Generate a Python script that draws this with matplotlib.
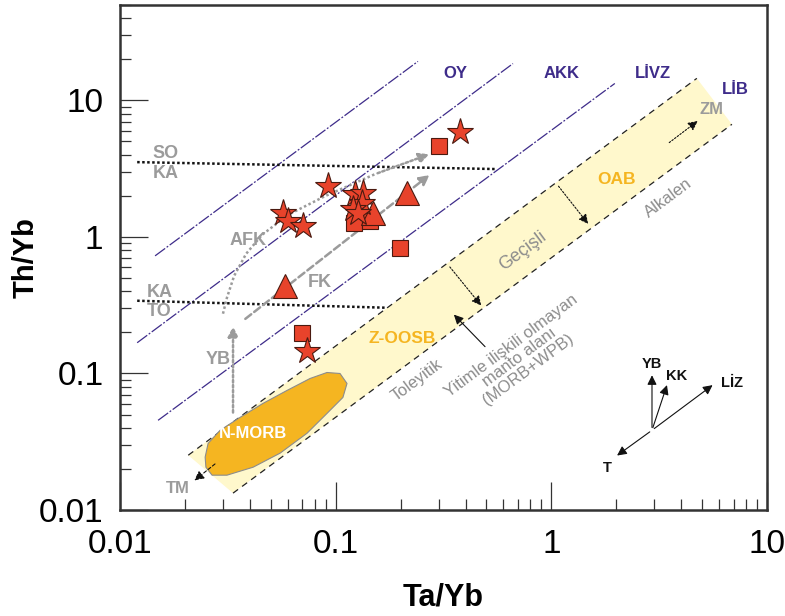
import matplotlib.pyplot as plt
from matplotlib.ticker import FixedLocator, LogLocator, NullFormatter

plt.rcParams['font.family'] = ['Liberation Sans', 'DejaVu Sans']

# sample data (Ta/Yb, Th/Yb)
star_x = [0.377, 0.092, 0.057, 0.060, 0.0705, 0.123, 0.134, 0.132, 0.120, 0.127, 0.0736]
star_y = [5.9, 2.36, 1.50, 1.31, 1.20, 2.06, 2.10, 1.77, 1.60, 1.50, 0.147]
square_x = [0.301, 0.1216, 0.144, 0.199, 0.0698]
square_y = [4.62, 1.265, 1.31, 0.831, 0.199]
tri_x = [0.214, 0.149, 0.058]
tri_y = [2.10, 1.50, 0.44]

# diagram reference lines
purple_lines = [
    ([0.01453, 0.2407], [0.727, 19.3]),
    ([0.012, 0.664], [0.168, 18.6]),
    ([0.015, 1.97], [0.0454, 13.3]),
]
band_upper_x = [0.0207, 4.73]
band_upper_y = [0.0252, 14.5]
band_lower_x = [0.0334, 6.88]
band_lower_y = [0.0133, 6.68]
so_ka_x = [0.012, 0.56]
so_ka_y = [3.53, 3.14]
ka_to_x = [0.012, 0.173]
ka_to_y = [0.341, 0.303]

morb_x = [0.0248, 0.0256, 0.0291, 0.036, 0.046, 0.0594, 0.076, 0.0911, 0.1047,
          0.1128, 0.108, 0.0911, 0.0736, 0.0552, 0.0414, 0.0313, 0.0267, 0.025]
morb_y = [0.0244, 0.0308, 0.0384, 0.0477, 0.0604, 0.0751, 0.0919, 0.1017, 0.1,
          0.0845, 0.0668, 0.051, 0.0365, 0.0261, 0.0206, 0.018, 0.018, 0.0206]

afk_x = [0.030, 0.0313, 0.0338, 0.0384, 0.0455, 0.0601, 0.0892, 0.152, 0.279]
afk_y = [0.274, 0.359, 0.519, 0.752, 1.035, 1.45, 1.99, 2.88, 4.10]

purple = '#3E2C8A'
gray = '#9B9B9B'
orange = '#F5B521'
red = '#E8432B'

fig = plt.figure(figsize=(7.85, 6.16), dpi=100)
ax = fig.add_axes([0.153, 0.172, 0.824, 0.82])
ax.set_xscale('log')
ax.set_yscale('log')
ax.set_xlim(0.01, 10)
ax.set_ylim(0.01, 50)

# mantle array band
ax.fill(band_upper_x + band_lower_x[::-1], band_upper_y + band_lower_y[::-1],
        color='#FFF8CC', lw=0, zorder=1)
ax.plot(band_upper_x, band_upper_y, color='#222222', lw=0.9, ls=(0, (5, 4)), zorder=2)
ax.plot(band_lower_x, band_lower_y, color='#222222', lw=0.9, ls=(0, (5, 4)), zorder=2)

for lx, ly in purple_lines:
    ax.plot(lx, ly, color=purple, lw=0.9, ls=(0, (10, 1.5, 1.5, 1.5)), zorder=2)

ax.plot(so_ka_x, so_ka_y, color='#111111', lw=1.8, ls=(0, (1, 1)), zorder=2)
ax.plot(ka_to_x, ka_to_y, color='#111111', lw=1.8, ls=(0, (1, 1)), zorder=2)

ax.fill(morb_x, morb_y, facecolor=orange, edgecolor='#8C8C8C', lw=0.8,
        joinstyle='round', zorder=3)

# gray trend arrows
ax.plot(afk_x[:-1], afk_y[:-1], color=gray, lw=1.8, ls=(0, (1, 1)), zorder=2)
ax.annotate('', xy=(afk_x[-1], afk_y[-1]), xytext=(afk_x[-2], afk_y[-2]),
            arrowprops=dict(arrowstyle='-|>', color=gray, lw=1.8, ls=(0, (1, 1)),
                            mutation_scale=15), zorder=2)
ax.annotate('', xy=(0.279, 2.93), xytext=(0.0372, 0.244),
            arrowprops=dict(arrowstyle='-|>', color=gray, lw=1.8, ls=(0, (3, 1.5)),
                            mutation_scale=15), zorder=2)
ax.annotate('', xy=(0.0334, 0.232), xytext=(0.0334, 0.0494),
            arrowprops=dict(arrowstyle='-|>', color=gray, lw=1.8, ls=(0, (1, 1)),
                            mutation_scale=15), zorder=2)

# black arrows
black_arrows = [
    ((0.482, 0.303), (0.332, 0.625), (0, (1.5, 1.5))),
    ((1.51, 1.20), (1.06, 2.44), (0, (1.5, 1.5))),
    ((0.346, 0.279), (0.503, 0.152), '-'),
    ((4.89, 7.27), (3.44, 4.77), (0, (1.5, 1.5))),
    ((0.0216, 0.016), (0.0282, 0.0224), (0, (3, 2))),
]
for tip, tail, style in black_arrows:
    ax.annotate('', xy=tip, xytext=tail,
                arrowprops=dict(arrowstyle='-|>', color='#111111', lw=0.8, ls=style,
                                mutation_scale=14), zorder=4)

# vector diagram
vec_origin = (2.93, 0.0384)
vec_tips = [(2.93, 0.1017), (3.47, 0.086), (5.73, 0.0845), (1.97, 0.0244)]
for tip in vec_tips:
    ax.annotate('', xy=tip, xytext=vec_origin,
                arrowprops=dict(arrowstyle='-|>', color='#111111', lw=0.8,
                                mutation_scale=14), zorder=4)
for txt, pos in [('YB', (2.93, 0.118)), ('KK', (3.8, 0.096)),
                 ('LİZ', (6.9, 0.0855)), ('T', (1.81, 0.0203))]:
    ax.text(pos[0], pos[1], txt, fontsize=10.5, fontweight='bold', color='#111111',
            ha='center', va='center', zorder=5)

# samples
mkw = dict(linestyle='none', markerfacecolor=red, markeredgecolor='#4a1a10',
           markeredgewidth=0.8, zorder=6)
ax.plot(square_x, square_y, marker='s', markersize=12, **mkw)
ax.plot(tri_x, tri_y, marker='^', markersize=17, **mkw)
ax.plot(star_x, star_y, marker='*', markersize=20, **mkw)

# labels
for txt, pos in [('OY', (0.357, 15.7)), ('AKK', (1.12, 15.7)),
                 ('LİVZ', (2.96, 15.7)), ('LİB', (7.1, 12.0))]:
    ax.text(pos[0], pos[1], txt, fontsize=12, fontweight='bold', color=purple,
            ha='center', va='center', zorder=5)

for txt, pos in [('SO', (0.0141, 4.10)), ('KA', (0.0141, 2.93)),
                 ('KA', (0.0133, 0.39)), ('TO', (0.0133, 0.284)),
                 ('AFK', (0.0392, 0.935)), ('FK', (0.0846, 0.462)),
                 ('YB', (0.0285, 0.1265))]:
    ax.text(pos[0], pos[1], txt, fontsize=13, fontweight='bold', color=gray,
            ha='left' if pos[0] < 0.015 else 'center', va='center', zorder=5)

ax.text(0.0186, 0.0145, 'TM', fontsize=12, fontweight='bold', color=gray,
        ha='center', va='center', zorder=5)
ax.text(5.55, 8.6, 'ZM', fontsize=12, fontweight='bold', color=gray,
        ha='center', va='center', zorder=5)
ax.text(0.0414, 0.0365, 'N-MORB', fontsize=12, fontweight='bold', color='white',
        ha='center', va='center', zorder=5)
ax.text(0.203, 0.18, 'Z-OOSB', fontsize=12.5, fontweight='bold', color=orange,
        ha='center', va='center', zorder=5)
ax.text(2.01, 2.65, 'OAB', fontsize=12.5, fontweight='bold', color=orange,
        ha='center', va='center', zorder=5)

rot = 36.6
for txt, pos, fs in [('Geçişli', (0.739, 0.79), 13), ('Alkalen', (3.47, 1.93), 12),
                     ('Toleyitik', (0.238, 0.0889), 12),
                     ('Yitimle ilişkili olmayan\nmanto alanı\n(MORB+WPB)', (0.715, 0.131), 12)]:
    ax.text(pos[0], pos[1], txt, fontsize=fs, color='#8C8C8C', rotation=rot,
            rotation_mode='anchor', ha='center', va='center', linespacing=0.95,
            zorder=5)

# axes styling
ax.xaxis.set_major_locator(FixedLocator([0.01, 0.1, 1, 10]))
ax.yaxis.set_major_locator(FixedLocator([0.01, 0.1, 1, 10]))
ax.xaxis.set_minor_locator(LogLocator(base=10, subs=range(2, 10)))
ax.yaxis.set_minor_locator(LogLocator(base=10, subs=range(2, 10)))
ax.xaxis.set_minor_formatter(NullFormatter())
ax.yaxis.set_minor_formatter(NullFormatter())
ax.set_xticklabels(['0.01', '0.1', '1', '10'])
ax.set_yticklabels(['0.01', '0.1', '1', '10'])
ax.tick_params(which='major', direction='in', length=20, width=0.9,
               labelsize=24, top=False, right=False, color='#333333')
ax.tick_params(which='minor', direction='in', length=8, width=0.9,
               top=False, right=False, color='#333333')
ax.tick_params(axis='x', which='major', pad=14)
ax.tick_params(axis='y', which='major', pad=12)
for sp in ax.spines.values():
    sp.set_linewidth(1.8)
    sp.set_color('#333333')

ax.set_xlabel('Ta/Yb', fontsize=22, fontweight='bold', labelpad=16)
ax.set_ylabel('Th/Yb', fontsize=21, fontweight='bold', labelpad=0)
ax.yaxis.set_label_coords(-0.125, 0.5)

fig.savefig('out.png', dpi=100)
